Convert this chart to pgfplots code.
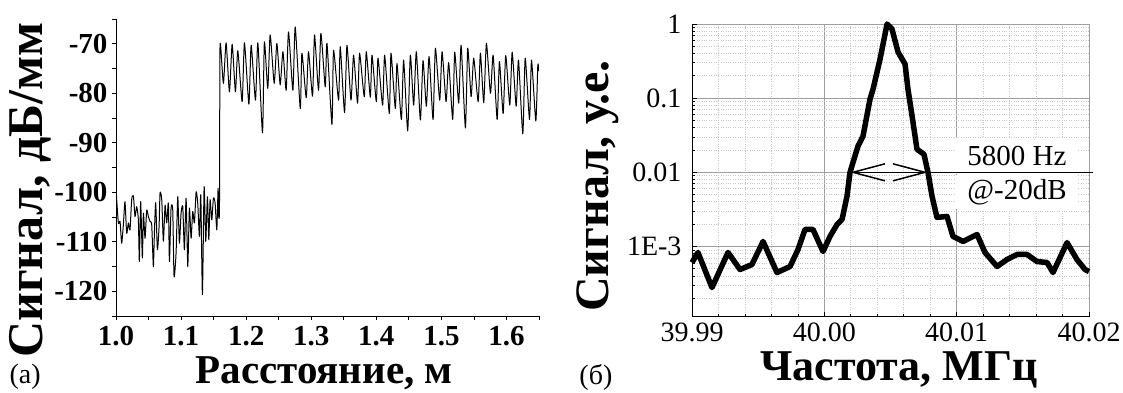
\documentclass[border=0pt]{standalone}
\usepackage{fontspec}
\setmainfont{Liberation Serif}
\usepackage{pgfplots}
\pgfplotsset{compat=1.18}
\usetikzlibrary{arrows.meta}
\begin{document}
\begin{tikzpicture}[x=1pt,y=1pt]
\useasboundingbox (0,0) rectangle (1123,392);
% ---------------- left panel ----------------
\begin{axis}[
  at={(116pt,76pt)}, anchor=south west,
  scale only axis, width=423pt, height=297pt,
  xmin=1.0, xmax=1.65, ymin=-125, ymax=-65,
  axis x line*=bottom, axis y line*=left,
  axis line style={-, line width=0.9pt, black},
  clip mode=individual,
  tick align=outside,
  xtick={1.0,1.1,1.2,1.3,1.4,1.5,1.6},
  xticklabels={1.0,1.1,1.2,1.3,1.4,1.5,1.6},
  ytick={-120,-110,-100,-90,-80,-70},
  yticklabels={-120,-110,-100,-90,-80,-70},
  minor xtick={1.05,1.15,1.25,1.35,1.45,1.55,1.65},
  minor ytick={-125,-115,-105,-95,-85,-75,-65},
  tick style={black, line width=0.8pt},
  major tick length=4pt, minor tick length=4pt,
  every tick label/.append style={font=\fontsize{29}{29}\selectfont\bfseries},
  xticklabel style={yshift=-3pt},
  yticklabel style={xshift=-1pt},
  xlabel={Расстояние, м},
  ylabel={Сигнал, дБ/мм},
  xlabel style={at={(axis description cs:0.492,-0.192)}, anchor=center, font=\fontsize{41}{41}\selectfont\bfseries},
  ylabel style={at={(axis description cs:-0.203,0.424)}, anchor=center, rotate=0, font=\fontsize{50}{50}\selectfont\bfseries},
]
\addplot[black, line width=1.0pt, line join=round, smooth, tension=0.35] coordinates {
(1.0005,-100.3) (1.0036,-106.2) (1.0062,-105.9) (1.0087,-110.3) (1.0113,-106.6)
(1.0138,-101.9) (1.0164,-108.3) (1.0190,-106.2) (1.0215,-107.6) (1.0241,-101.5)
(1.0267,-100.7) (1.0292,-104.9) (1.0318,-102.9) (1.0344,-105.6) (1.0359,-114.0)
(1.0379,-101.9) (1.0405,-113.3) (1.0421,-104.2) (1.0446,-109.3) (1.0472,-103.6)
(1.0497,-104.9) (1.0523,-105.9) (1.0549,-106.6) (1.0574,-115.0) (1.0590,-108.3)
(1.0610,-102.1) (1.0636,-111.6) (1.0662,-106.9) (1.0677,-100.1) (1.0703,-101.5)
(1.0728,-109.9) (1.0754,-102.6) (1.0779,-106.2) (1.0805,-102.2) (1.0821,-114.0)
(1.0846,-103.2) (1.0872,-103.6) (1.0892,-117.0) (1.0923,-112.3) (1.0949,-100.9)
(1.0974,-110.3) (1.1000,-104.2) (1.1026,-102.9) (1.1051,-111.6) (1.1077,-101.2)
(1.1103,-115.0) (1.1128,-103.2) (1.1154,-109.3) (1.1179,-103.9) (1.1205,-106.2)
(1.1231,-99.9) (1.1256,-102.2) (1.1282,-108.9) (1.1303,-100.5) (1.1328,-120.7)
(1.1354,-98.9) (1.1379,-109.9) (1.1405,-100.9) (1.1426,-109.6) (1.1446,-101.5)
(1.1472,-105.6) (1.1497,-101.2) (1.1523,-102.2) (1.1549,-107.6) (1.1569,-99.2)
(1.1579,-104.9) (1.1590,-103.0) (1.1597,-72.0)
(1.1609,-70.6) (1.1651,-78.0) (1.1692,-69.8) (1.1743,-79.7) (1.1785,-70.1)
(1.1835,-79.7) (1.1872,-71.4) (1.1938,-81.7) (1.1974,-69.8) (1.2042,-82.2)
(1.2077,-70.3) (1.2143,-81.4) (1.2180,-69.8) (1.2251,-88.0) (1.2280,-69.6)
(1.2332,-79.0) (1.2369,-68.2) (1.2431,-78.0) (1.2472,-69.9) (1.2523,-78.3)
(1.2565,-71.6) (1.2615,-79.4) (1.2651,-67.6) (1.2718,-79.4) (1.2754,-66.6)
(1.2831,-83.1) (1.2857,-71.9) (1.2923,-80.9) (1.2958,-71.6) (1.3020,-80.6)
(1.3051,-68.2) (1.3112,-79.4) (1.3149,-67.9) (1.3215,-78.7) (1.3242,-69.9)
(1.3318,-86.3) (1.3343,-71.3) (1.3420,-81.4) (1.3446,-70.6) (1.3512,-83.9)
(1.3549,-70.3) (1.3611,-81.4) (1.3651,-72.3) (1.3712,-82.0) (1.3743,-71.9)
(1.3815,-80.7) (1.3846,-71.6) (1.3908,-80.8) (1.3934,-72.3) (1.4000,-81.7)
(1.4026,-72.9) (1.4097,-82.4) (1.4128,-72.3) (1.4200,-84.1) (1.4226,-71.9)
(1.4292,-83.1) (1.4318,-74.0) (1.4385,-85.3) (1.4420,-73.3) (1.4482,-87.6)
(1.4523,-72.3) (1.4574,-82.4) (1.4615,-71.6) (1.4677,-85.4) (1.4718,-73.4)
(1.4769,-82.6) (1.4811,-72.6) (1.4872,-85.3) (1.4908,-70.9) (1.4974,-81.4)
(1.5011,-71.6) (1.5072,-81.7) (1.5112,-73.8) (1.5174,-85.3) (1.5205,-71.7)
(1.5266,-82.0) (1.5303,-70.3) (1.5369,-87.0) (1.5405,-70.9) (1.5457,-80.7)
(1.5497,-72.9) (1.5565,-81.7) (1.5600,-71.9) (1.5651,-81.9) (1.5692,-69.9)
(1.5754,-80.0) (1.5795,-72.3) (1.5857,-85.3) (1.5892,-73.6) (1.5949,-84.1)
(1.5989,-72.4) (1.6051,-82.4) (1.6088,-71.7) (1.6149,-82.6) (1.6185,-73.3)
(1.6251,-88.2) (1.6288,-72.9) (1.6354,-85.3) (1.6385,-73.3) (1.6451,-85.6)
(1.6482,-74.3) (1.6500,-75.5)
};
\node[font=\fontsize{28}{28}\selectfont, anchor=center] at (axis description cs:-0.215,-0.205) {(а)};
\end{axis}
% ---------------- right panel ----------------
\begin{axis}[
  at={(692pt,75.3pt)}, anchor=south west,
  scale only axis, width=397pt, height=292.7pt,
  xmin=39.99, xmax=40.02, ymode=log, ymin=1.13e-4, ymax=1,
  axis x line*=bottom, axis y line*=left,
  axis line style={-, line width=0.9pt, black},
  xtick={39.99,40.00,40.01,40.02},
  xticklabels={39.99,40.00,40.01,40.02},
  ytick={0.001,0.01,0.1,1},
  yticklabels={1E-3,0.01,0.1,1},
  minor xtick={39.992,39.994,39.996,39.998,40.002,40.004,40.006,40.008,40.012,40.014,40.016,40.018},
  minor ytick={2e-4,3e-4,4e-4,5e-4,6e-4,7e-4,8e-4,9e-4,2e-3,3e-3,4e-3,5e-3,6e-3,7e-3,8e-3,9e-3,0.02,0.03,0.04,0.05,0.06,0.07,0.08,0.09,0.2,0.3,0.4,0.5,0.6,0.7,0.8,0.9},
  tick align=inside,
  tick style={black, line width=0.7pt},
  major tick length=5pt, minor tick length=3pt,
  grid=both,
  major grid style={gray!75, line width=0.7pt},
  minor grid style={gray!45, dotted, line width=0.7pt},
  clip=false,
  every tick label/.append style={font=\fontsize{28}{28}\selectfont},
  yticklabel style={xshift=-7pt},
  xticklabel style={yshift=-3pt},
  xlabel={Частота, МГц},
  ylabel={Сигнал, у.е.},
  xlabel style={at={(axis description cs:0.521,-0.182)}, anchor=center, font=\fontsize{44}{44}\selectfont\bfseries},
  ylabel style={at={(axis description cs:-0.237,0.447)}, anchor=center, rotate=0, font=\fontsize{48}{48}\selectfont\bfseries},
]
\addplot[black, line width=5.5pt, line join=round] coordinates {
(39.99000,6.08e-4) (39.99045,8.30e-4) (39.99151,2.79e-4) (39.99272,8.30e-4)
(39.99363,4.89e-4) (39.99453,5.71e-4) (39.99537,1.17e-3) (39.99642,4.45e-4)
(39.99741,5.37e-4) (39.99801,9.10e-4) (39.99854,1.70e-3) (39.99914,1.70e-3)
(39.99990,8.55e-4) (40.00043,1.37e-3) (40.00096,1.98e-3) (40.00134,2.32e-3)
(40.00171,4.74e-3) (40.00194,0.0100) (40.00254,0.0225) (40.00292,0.0306)
(40.00345,0.0969) (40.00368,0.132) (40.00421,0.337) (40.00474,1.0)
(40.00511,0.856) (40.00557,0.418) (40.00610,0.288) (40.00632,0.132)
(40.00670,0.0474) (40.00700,0.0205) (40.00753,0.0175) (40.00783,0.0100)
(40.00814,4.74e-3) (40.00851,2.47e-3) (40.00927,2.54e-3) (40.00972,1.37e-3)
(40.01048,1.17e-3) (40.01154,1.45e-3) (40.01214,8.30e-4) (40.01305,5.37e-4)
(40.01380,6.67e-4) (40.01456,7.80e-4) (40.01532,7.80e-4) (40.01607,6.27e-4)
(40.01683,6.08e-4) (40.01728,4.45e-4) (40.01834,1.13e-3) (40.01909,6.67e-4)
(40.01970,4.89e-4) (40.02000,4.59e-4)
};
\node[fill=white, inner sep=0pt, minimum width=122pt, minimum height=36pt, font=\fontsize{29}{29}\selectfont] at (axis cs:40.01456,0.0164) {5800 Hz};
\node[fill=white, inner sep=0pt, minimum width=122pt, minimum height=34pt, font=\fontsize{29}{29}\selectfont] at (axis cs:40.01456,0.00537) {@-20dB};
\draw[black, line width=1.5pt] (axis cs:40.00783,0.01) -- (axis cs:40.0203,0.01);
\draw[black, line width=1.5pt, {Straight Barb[length=32pt,width=17pt]}-{Straight Barb[length=32pt,width=17pt]}] (axis cs:40.00194,0.01) -- (axis cs:40.00783,0.01);
\node[font=\fontsize{28}{28}\selectfont, anchor=center] at (axis description cs:-0.242,-0.206) {(б)};
\end{axis}
\end{tikzpicture}
\end{document}
